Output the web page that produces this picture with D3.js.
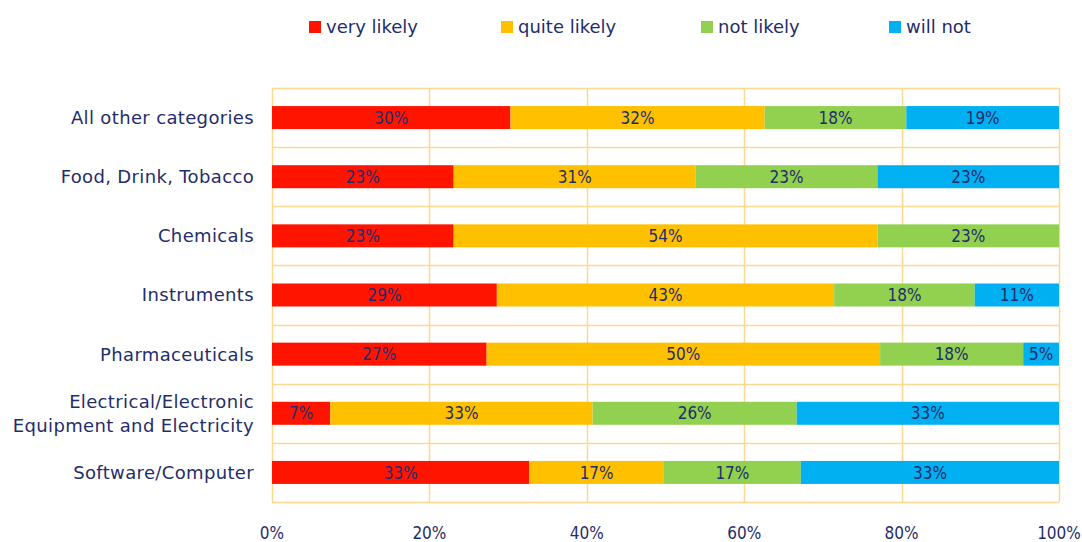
<!DOCTYPE html>
<html>
<head>
<meta charset="utf-8">
<script src="https://cdn.jsdelivr.net/npm/d3@7"></script>
<style>
  body { margin: 0; background: #fff; }
  text { font-family: "DejaVu Sans", sans-serif; fill: #1f2d6b; }
  .num { font-family: "DejaVu Sans Condensed", "DejaVu Sans", sans-serif; }
</style>
</head>
<body>
<div class="container"></div>
<script>
const size = { width: 1082, height: 542 };
const margin = { top: 88, right: 23, bottom: 40, left: 272 };

const categories = [
  "All other categories",
  "Food, Drink, Tobacco",
  "Chemicals",
  "Instruments",
  "Pharmaceuticals",
  "Electrical/Electronic|Equipment and Electricity",
  "Software/Computer"
];
const seriesNames = ["very likely", "quite likely", "not likely", "will not"];
const seriesColors = ["#ff1400", "#ffc000", "#92d050", "#00b0f0"];

// percentages per category (same order as categories)
const veryLikely  = [30.3, 23.08, 23.08, 28.57, 27.27, 7.41, 32.7];
const quiteLikely = [32.3, 30.77, 53.85, 42.86, 50.00, 33.33, 17.1];
const notLikely   = [18.0, 23.08, 23.08, 17.86, 18.18, 25.93, 17.4];
const willNot     = [19.4, 23.08, 0,     10.71, 4.55, 33.33, 32.8];

const xTicks = [0, 20, 40, 60, 80, 100];

const table = categories.map((c, i) => ({
  cat: c,
  "very likely": veryLikely[i],
  "quite likely": quiteLikely[i],
  "not likely": notLikely[i],
  "will not": willNot[i]
}));

const stacked = d3.stack().keys(seriesNames)(table);

const svg = d3.select(".container")
  .append("svg")
  .attr("width", size.width)
  .attr("height", size.height);

const innerW = size.width - margin.left - margin.right;
const innerH = 414;

const x = d3.scaleLinear().domain([0, 100]).range([margin.left, margin.left + innerW]);
const y = d3.scaleBand().domain(categories).range([margin.top, margin.top + innerH]).paddingInner(0).paddingOuter(0);

const grid = "#fcd98e";

// horizontal band lines
svg.append("g")
  .selectAll("line")
  .data(d3.range(categories.length + 1))
  .enter()
  .append("line")
  .attr("x1", x(0)).attr("x2", x(100))
  .attr("y1", d => Math.round(margin.top + d * y.step()) + 0.5)
  .attr("y2", d => Math.round(margin.top + d * y.step()) + 0.5)
  .attr("stroke", grid).attr("stroke-width", 1.5);

// vertical grid lines
svg.append("g")
  .selectAll("line")
  .data(xTicks)
  .enter()
  .append("line")
  .attr("x1", d => Math.round(x(d)) + 0.5).attr("x2", d => Math.round(x(d)) + 0.5)
  .attr("y1", margin.top).attr("y2", margin.top + innerH)
  .attr("stroke", grid).attr("stroke-width", 1.5);

const barH = 23;

const layer = svg.append("g")
  .selectAll("g")
  .data(stacked)
  .enter()
  .append("g")
  .attr("fill", (d, i) => seriesColors[i]);

layer.selectAll("rect")
  .data(d => d.filter(p => p[1] - p[0] > 0))
  .enter()
  .append("rect")
  .attr("x", d => x(d[0]))
  .attr("width", d => x(d[1]) - x(d[0]))
  .attr("y", d => y(d.data.cat) + y.bandwidth() / 2 - barH / 2)
  .attr("height", barH);

layer.selectAll("text")
  .data(d => d.filter(p => p[1] - p[0] > 0))
  .enter()
  .append("text")
  .attr("class", "num")
  .attr("x", d => (x(d[0]) + x(d[1])) / 2)
  .attr("y", d => y(d.data.cat) + y.bandwidth() / 2)
  .attr("dy", "0.36em")
  .attr("text-anchor", "middle")
  .attr("font-size", 17)
  .text(d => Math.round(d[1] - d[0]) + "%");

// category labels
const catLabels = svg.append("g")
  .selectAll("text")
  .data(categories)
  .enter()
  .append("text")
  .attr("x", margin.left - 18)
  .attr("y", d => y(d) + y.bandwidth() / 2)
  .attr("text-anchor", "end")
  .attr("letter-spacing", 0.35)
  .attr("font-size", 18);

catLabels.each(function (d) {
  const lines = d.split("|");
  const t = d3.select(this);
  lines.forEach((l, i) => {
    t.append("tspan")
      .attr("x", margin.left - 18)
      .attr("dy", i === 0 ? (0.36 - (lines.length - 1) * 0.66) + "em" : "1.33em")
      .text(l);
  });
});

// x axis labels
svg.append("g")
  .selectAll("text")
  .data(xTicks)
  .enter()
  .append("text")
  .attr("class", "num")
  .attr("x", d => x(d))
  .attr("y", 533)
  .attr("dy", "0.36em")
  .attr("text-anchor", "middle")
  .attr("font-size", 17)
  .text(d => d + "%");

// legend
const legendX = [309, 501, 701, 889];
const legend = svg.append("g")
  .selectAll("g")
  .data(seriesNames)
  .enter()
  .append("g")
  .attr("transform", (d, i) => `translate(${legendX[i]},27)`);

legend.append("rect")
  .attr("x", 0).attr("y", -6)
  .attr("width", 12).attr("height", 12)
  .attr("fill", (d, i) => seriesColors[i]);

legend.append("text")
  .attr("x", 17)
  .attr("dy", "0.36em")
  .attr("font-size", 18)
  .text(d => d);
</script>
</body>
</html>
